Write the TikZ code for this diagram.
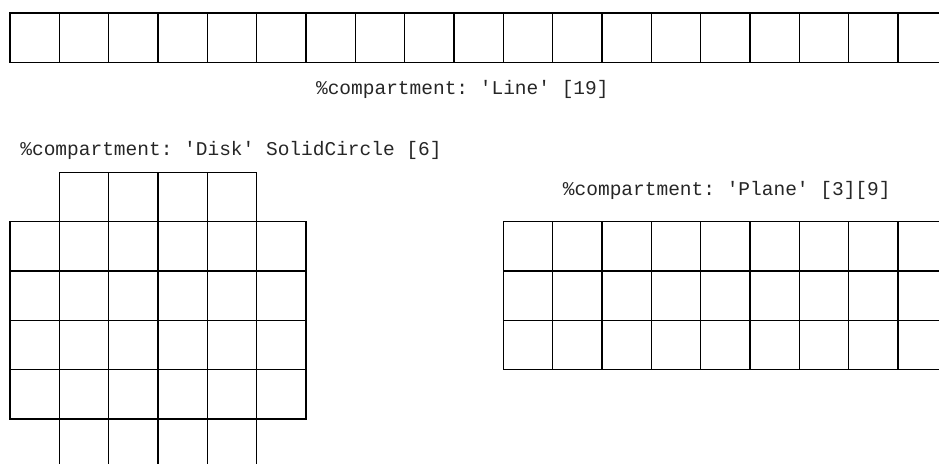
\documentclass[tikz,border=0pt]{standalone}
\usepackage{fontspec}
\setmonofont{Liberation Mono}
\usetikzlibrary{positioning}

\tikzset{
  cell/.style={draw=black, line width=1.5pt},
  cmptext/.style={font=\ttfamily\fontsize{19.5}{20}\selectfont, inner sep=0pt, text=black!85}
}

\begin{document}
\begin{tikzpicture}[x=49.33pt, y=-49.33pt]
    \useasboundingbox (-0.2027,-0.2635) rectangle (18.832,9.122);

    % Line
    \foreach \i in {0,...,18}
        \draw[cell] (\i,0) rectangle ++(1,1);
    \node[cmptext] (linetext) at (9.17,1.54) {\%compartment: 'Line' [19]};

    % Disk
    \node[cmptext] (disktext) at (4.48,2.78) {\%compartment: 'Disk' SolidCircle [6]};
    \begin{scope}[shift={(0,3.23)}]
        \foreach \i in {1,...,4} {
            \draw[cell] (\i,0) rectangle ++(1,1);
            \draw[cell] (\i,5) rectangle ++(1,1);
        }
        \foreach \j in {1,...,4}
            \foreach \i in {0,...,5}
                \draw[cell] (\i,\j) rectangle ++(1,1);
    \end{scope}

    % Plane
    \node[cmptext] (planetext) at (14.53,3.59) {\%compartment: 'Plane' [3][9]};
    \begin{scope}[shift={(10,4.23)}]
        \foreach \j in {0,...,2}
            \foreach \i in {0,...,8}
                \draw[cell] (\i,\j) rectangle ++(1,1);
    \end{scope}
\end{tikzpicture}
\end{document}
